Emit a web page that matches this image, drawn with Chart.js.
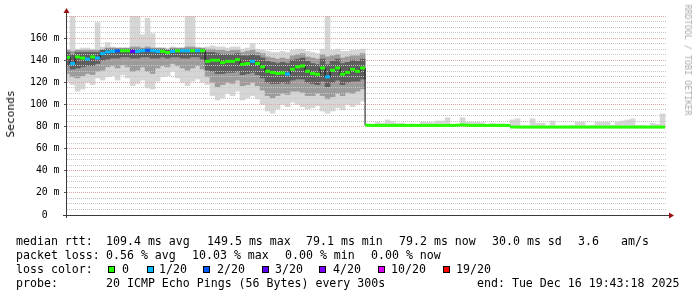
<!DOCTYPE html>
<html>
<head>
<meta charset="utf-8">
<title>SmokePing median rtt</title>
<script src="https://cdn.jsdelivr.net/npm/chart.js@4.4.1/dist/chart.umd.min.js"></script>
<style>
  html, body { margin: 0; padding: 0; background: #fff; }
  #wrap { position: relative; width: 697px; height: 297px; overflow: hidden; }
  #grafico { position: absolute; left: 0; top: 0; }
  .t { position: absolute; font: 11.6px 'DejaVu Sans Mono', monospace; line-height: 14px; white-space: pre; color: #000; }
  .sq { position: absolute; top: 266px; width: 7px; height: 7px; box-sizing: border-box; border: 1px solid #000; }
  .rot { position: absolute; white-space: pre; font-family: 'DejaVu Sans Mono', monospace; }
</style>
</head>
<body>
<div id="wrap">
  <canvas id="grafico" width="697" height="297"></canvas>

  <div class="rot" style="left:11px;top:113.5px;font-size:11.2px;line-height:14px;color:#000;transform:translate(-50%,-50%) rotate(-90deg);">Seconds</div>
  <div class="rot" style="left:687.5px;top:60px;font-size:8.4px;line-height:10px;color:#aaa;transform:translate(-50%,-50%) rotate(90deg);">RRDTOOL / TOBI OETIKER</div>

  <div class="t" style="left:16px;top:234px">median rtt:</div>
  <div class="t" style="left:106px;top:234px">109.4 ms avg</div>
  <div class="t" style="left:207px;top:234px">149.5 ms max</div>
  <div class="t" style="left:306px;top:234px">79.1 ms min</div>
  <div class="t" style="left:399px;top:234px">79.2 ms now</div>
  <div class="t" style="left:492px;top:234px">30.0 ms sd</div>
  <div class="t" style="left:578px;top:234px">3.6</div>
  <div class="t" style="left:621px;top:234px">am/s</div>

  <div class="t" style="left:16px;top:248px">packet loss:</div>
  <div class="t" style="left:106px;top:248px">0.56 % avg</div>
  <div class="t" style="left:192px;top:248px">10.03 % max</div>
  <div class="t" style="left:285px;top:248px">0.00 % min</div>
  <div class="t" style="left:371px;top:248px">0.00 % now</div>

  <div class="t" style="left:16px;top:262px">loss color:</div>
  <div id="lossLegend"></div>

  <div class="t" style="left:16px;top:276px">probe:</div>
  <div class="t" style="left:106px;top:276px">20 ICMP Echo Pings (56 Bytes) every 300s</div>
  <div class="t" style="left:477px;top:276px">end: Tue Dec 16 19:43:18 2025</div>
</div>

<script>
// muestras cada 15 min desde Mon 13:45 (horas desde Mon 00:00)
const startHour = 13.75;
const stepHours = 0.25;

// mediana de rtt (ms)
const median = [
    142.6, 137, 143, 142, 141, 143, 142, 146, 147.5, 148,
    148.5, 148.5, 148.5, 148, 148, 148.6, 149, 148.6, 148, 148,
    147, 148, 148.5, 148.5, 148.5, 148.6, 148.6, 148.6,
    139, 140, 140, 137.8, 139, 139, 140.5, 136.3, 137, 139,
    137, 134, 130, 128.8, 128, 128.5, 127.5, 131.8, 134, 134.8,
    130, 128, 127.3, 133, 125, 131, 133, 127.3, 129, 131.8,
    130, 133,
    81.2, 81, 81, 81, 81, 81, 81, 81, 81, 81,
    81, 81, 81, 81, 81, 81, 81, 81, 81.2, 81.5,
    81.2, 81, 81, 81, 81, 81, 81, 81, 81,
    79.6, 79.5, 79.5, 79.5, 79.5, 79.5, 79.5, 79.5, 79.5, 79.5,
    79.5, 79.5, 79.5, 79.5, 79.5, 79.5, 79.5, 79.5, 79.5, 79.5,
    79.5, 79.5, 79.5, 79.5, 79.5, 79.5, 79.5, 79.5, 79.5, 79.5,
    79.5
];

// pings perdidos de 20 en cada muestra
const loss = [
    0, 1, 0, 0, 1, 0, 1, 1, 1, 1, 2, 0, 0, 3, 1, 1, 2, 1, 1, 0,
    0, 1, 0, 1, 1, 0, 1, 0,
    0, 0, 0, 0, 0, 0, 0, 0, 0, 1, 0, 0, 0, 0, 0, 0, 1, 0, 0, 0,
    0, 0, 0, 0, 1, 0, 0, 0, 0, 0, 0, 0,
    0, 0, 0, 0, 0, 0, 0, 0, 0, 0, 0, 0, 0, 0, 0, 0, 0, 0, 0, 0,
    0, 0, 0, 0, 0, 0, 0, 0, 0, 0, 0, 0, 0, 0, 0, 0, 0, 0, 0, 0,
    0, 0, 0, 0, 0, 0, 0, 0, 0, 0, 0, 0, 0, 0, 0, 0, 0, 0, 0, 0
];

// humo: banda exterior (min / max de los pings)
const outerLo = [
    121, 118, 112, 114, 120, 118, 124, 122, 125, 126,
    122, 127, 124, 117, 119, 122, 115, 114, 121, 125,
    126, 130, 124, 120, 117, 121, 123, 120,
    118, 108, 104, 106, 110, 108, 112, 104, 106, 108,
    105, 100, 94, 92, 96, 100, 98, 102, 100, 98,
    96, 97, 99, 94, 92, 94, 97, 95, 100, 98,
    100, 103,
    80.5, 80.5, 80.5, 80.5, 80.5, 80.5, 80.5, 80.5, 80.5, 80.5,
    80.5, 80.5, 80.5, 80.5, 80.5, 80.5, 80.5, 80.5, 80.5, 80.5,
    80.5, 80.5, 80.5, 80.5, 80.5, 80.5, 80.5, 80.5, 80.5,
    79, 79, 79, 79, 79, 79, 79, 79, 79, 79,
    79, 79, 79, 79, 79, 79, 79, 79, 79, 79,
    79, 79, 79, 79, 79, 79, 79, 79, 79, 79,
    79
];
const outerHi = [
    150, 180, 150, 151, 151, 150, 174, 152, 156, 152,
    151, 151, 151, 180, 180, 163, 178, 164, 151, 151,
    151, 152, 151, 151, 180, 180, 152, 151,
    152, 153, 152, 152, 151, 152, 152, 150, 151, 155,
    150, 149, 148, 147, 147, 148, 147, 149, 150, 150,
    148, 147, 146, 150, 180, 149, 150, 148, 148, 149,
    149, 150,
    82, 82, 84, 83, 86, 84.5, 83, 83, 81.5, 82.5,
    82, 84, 84, 83.5, 85, 85, 88, 82, 82, 88,
    84, 84, 84, 83.5, 82, 83, 82.5, 82.5, 82, 86,
    87, 80.5, 80.5, 87, 83, 83, 80.5, 85, 80.5, 80.5,
    80.5, 81, 84, 84, 80.5, 81, 84, 84, 84, 81,
    84, 85, 86, 87, 81, 81, 80.5, 83, 82, 91.5
];

// humo: banda media (solo hasta la caída de las 04:30)
const midLo = [
    128, 125, 124, 126, 128, 127, 130, 131, 134, 135,
    133, 136, 134, 130, 131, 134, 130, 128, 133, 135,
    134, 137, 135, 133, 131, 133, 135, 132,
    125, 120, 116, 118, 120, 119, 122, 117, 118, 120,
    117, 113, 108, 106, 108, 110, 109, 112, 112, 111,
    108, 108, 110, 108, 105, 107, 110, 108, 111, 110,
    112, 114
];
const midHi = [
    149, 148, 149, 149, 149, 149, 149, 150, 151, 151,
    151, 151, 151, 152, 152, 151, 152, 151, 151, 151,
    150, 151, 151, 151, 152, 152, 151, 151,
    150, 150, 149, 149, 148, 149, 149, 147, 148, 149,
    147, 146, 143, 142, 141, 142, 141, 144, 145, 146,
    143, 142, 141, 145, 143, 144, 145, 142, 143, 144,
    144, 146
];

// humo: banda interior (la más oscura)
const innerLo = [
    135, 132, 133, 134, 135, 135, 137, 140, 141, 142,
    142, 143, 143, 142, 142, 143, 143, 142, 142, 143,
    142, 143, 143, 142, 142, 143, 143, 141,
    131, 130, 128, 128, 129, 129, 130, 127, 128, 129,
    127, 124, 120, 119, 119, 120, 119, 122, 123, 123,
    120, 119, 118, 121, 116, 120, 122, 118, 120, 121,
    121, 123
];
const innerHi = [
    147, 145, 147, 147, 147, 147, 147, 149, 150, 150,
    150, 150, 150, 150, 150, 150, 150, 150, 150, 150,
    149, 150, 150, 150, 150, 150, 150, 150,
    147, 147, 146, 145, 145, 145, 146, 144, 144, 145,
    144, 142, 139, 138, 137, 138, 137, 140, 141, 142,
    139, 137, 136, 141, 136, 139, 141, 137, 138, 140,
    139, 141
];

// ejes
const xMin = 13 + 43 / 60 + 18 / 3600;   // Mon 13:43:18
const xMax = xMin + 30;                  // Tue 19:43:18
const tickHours = [18, 24, 30, 36, 42];
const tickLabels = ['Mon 18:00', 'Tue 00:00', 'Tue 06:00', 'Tue 12:00', 'Tue 18:00'];
const yTickValues = [0, 20, 40, 60, 80, 100, 120, 140, 160];
const yTickLabels = ['0  ', '20 m', '40 m', '60 m', '80 m', '100 m', '120 m', '140 m', '160 m'];

// leyenda de colores de pérdida
const lossSteps = [0, 1, 2, 3, 4, 10, 19];
const lossNames = ['0', '1/20', '2/20', '3/20', '4/20', '10/20', '19/20'];
const lossColors = { 0: '#26ff00', 1: '#00b8ff', 2: '#0059ff', 3: '#5e00ff', 4: '#7e00ff', 10: '#dd00ff', 19: '#ff0000' };

const squareX = [108, 147, 203, 262, 319, 378, 443];
const nameX = [122, 159, 217, 275, 333, 391, 456];
const leyenda = document.getElementById('lossLegend');
lossSteps.forEach((s, k) => {
    const sq = document.createElement('div');
    sq.className = 'sq';
    sq.style.left = squareX[k] + 'px';
    sq.style.background = lossColors[s];
    leyenda.appendChild(sq);
    const tx = document.createElement('div');
    tx.className = 't';
    tx.style.left = nameX[k] + 'px';
    tx.style.top = '262px';
    tx.textContent = lossNames[k];
    leyenda.appendChild(tx);
});

const hourAt = i => startHour + i * stepHours;
const banda = (lo, hi) => lo.map((v, i) => ({ x: hourAt(i), y: [v, hi[i]] }));

const gridMayor = '#e2a3a3';
const gridMenor = '#c6c6c6';
const fuenteEje = { family: 'DejaVu Sans Mono', size: 9.8 };

// ejes con flechas al estilo rrdtool, y la rejilla repintada sobre el humo
const ejesRrd = {
    id: 'ejesRrd',
    afterDatasetDraw(chart, args) {
        if (args.meta.order === 1) {
            chart.scales.x.drawGrid(chart.chartArea);
            chart.scales.y.drawGrid(chart.chartArea);
        }
    },
    afterDraw(chart) {
        const { ctx, chartArea: a } = chart;
        const x0 = Math.round(a.left) - 0.5;
        const y0 = Math.round(a.bottom) + 0.5;
        ctx.save();
        ctx.strokeStyle = '#3a3a3a';
        ctx.lineWidth = 1;
        ctx.beginPath();
        ctx.moveTo(x0, a.top - 3);
        ctx.lineTo(x0, a.bottom + 3);
        ctx.moveTo(a.left - 4, y0);
        ctx.lineTo(a.right + 2, y0);
        ctx.stroke();
        ctx.fillStyle = '#991111';
        ctx.beginPath();
        ctx.moveTo(x0, a.top - 8);
        ctx.lineTo(x0 - 3, a.top - 3);
        ctx.lineTo(x0 + 3, a.top - 3);
        ctx.closePath();
        ctx.fill();
        ctx.beginPath();
        ctx.moveTo(a.right + 7, y0);
        ctx.lineTo(a.right + 2, y0 - 3);
        ctx.lineTo(a.right + 2, y0 + 3);
        ctx.closePath();
        ctx.fill();
        ctx.restore();
    }
};

new Chart(document.getElementById('grafico'), {
    type: 'bar',
    data: {
        datasets: [
            {
                type: 'line',
                data: median.map((v, i) => ({ x: hourAt(i), y: v })),
                borderColor: '#111',
                borderWidth: 1,
                stepped: 'middle',
                pointStyle: 'line',
                pointRadius: 2.5,
                pointHoverRadius: 2.5,
                pointBorderWidth: 3,
                pointBorderColor: loss.map(l => lossColors[l]),
                pointBackgroundColor: loss.map(l => lossColors[l]),
                order: 0
            },
            {
                data: banda(innerLo, innerHi),
                backgroundColor: '#5e5e5e',
                borderWidth: 0,
                barPercentage: 1,
                categoryPercentage: 1,
                grouped: false,
                order: 1
            },
            {
                data: banda(midLo, midHi),
                backgroundColor: '#9c9c9c',
                borderWidth: 0,
                barPercentage: 1,
                categoryPercentage: 1,
                grouped: false,
                order: 2
            },
            {
                data: banda(outerLo, outerHi),
                backgroundColor: '#d6d6d6',
                borderWidth: 0,
                barPercentage: 1,
                categoryPercentage: 1,
                grouped: false,
                order: 3
            }
        ]
    },
    options: {
        responsive: false,
        animation: false,
        devicePixelRatio: 1,
        layout: { padding: { left: 0, right: 30, top: 16, bottom: 62 } },
        plugins: {
            legend: { display: false },
            tooltip: { enabled: false }
        },
        scales: {
            x: {
                type: 'linear',
                min: xMin,
                max: xMax,
                afterBuildTicks: s => { s.ticks = s.ticks.filter(t => Number.isInteger(t.value)); },
                afterFit: s => { s.height = 20; s.paddingLeft = 0; s.paddingRight = 0; },
                ticks: {
                    stepSize: 1,
                    autoSkip: false,
                    maxRotation: 0,
                    minRotation: 0,
                    padding: 1,
                    color: '#000',
                    font: fuenteEje,
                    callback: v => {
                        const k = tickHours.indexOf(v);
                        return k >= 0 ? tickLabels[k] : '';
                    }
                },
                grid: {
                    color: c => (c.tick && tickHours.includes(c.tick.value)) ? gridMayor : gridMenor,
                    tickColor: c => (c.tick && tickHours.includes(c.tick.value)) ? '#555' : 'rgba(0,0,0,0)',
                    tickLength: 3,
                    lineWidth: 1
                },
                border: { display: false, dash: [1, 1] }
            },
            y: {
                min: 0,
                max: 180,
                afterFit: s => { s.width = 67; s.paddingTop = 0; s.paddingBottom = 0; },
                ticks: {
                    stepSize: 5,
                    autoSkip: false,
                    padding: 4.5,
                    color: '#000',
                    font: fuenteEje,
                    callback: v => {
                        const k = yTickValues.indexOf(v);
                        return k >= 0 ? yTickLabels[k] : '';
                    }
                },
                grid: {
                    color: c => (c.tick && c.tick.value % 20 === 0) ? gridMayor : gridMenor,
                    tickColor: c => (c.tick && yTickValues.includes(c.tick.value)) ? '#555' : 'rgba(0,0,0,0)',
                    tickLength: 3,
                    lineWidth: 1
                },
                border: { display: false, dash: [1, 1] }
            }
        }
    },
    plugins: [ejesRrd]
});
</script>
</body>
</html>
